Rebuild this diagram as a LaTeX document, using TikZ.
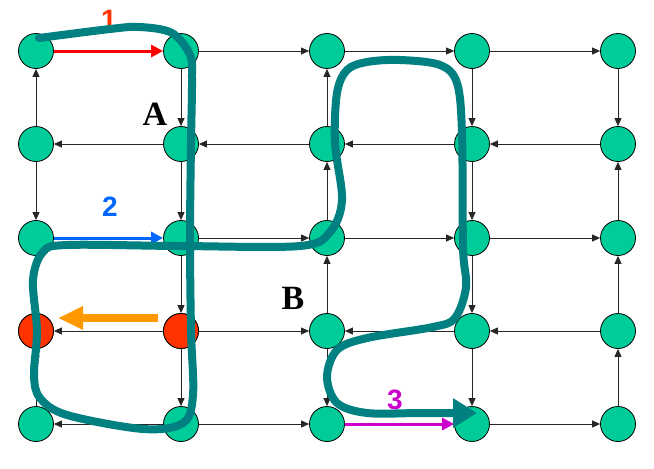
\documentclass[tikz,border=0pt]{standalone}
\usepackage{fontspec}
\setmainfont{Liberation Serif}
\newfontfamily\digitfont{Liberation Sans}
\usetikzlibrary{arrows.meta}
\definecolor{dotgreen}{HTML}{00CC99}
\definecolor{hotred}{HTML}{FF3300}
\definecolor{pathteal}{HTML}{008080}
\definecolor{blueA}{HTML}{0066FF}
\definecolor{magA}{HTML}{CC00CC}
\definecolor{orangeA}{HTML}{FF9900}
\tikzset{
  dot/.style={circle,draw=black,line width=0.8pt,fill=dotgreen,minimum size=35pt,inner sep=0pt},
  hotdot/.style={dot,fill=hotred},
  edge/.style={draw=black!85,line width=0.8pt,-{Triangle[length=8pt,width=7pt]}},
  plainedge/.style={draw=black!85,line width=0.8pt},
  flowarrow/.style={line width=3pt,-{Triangle[length=12pt,width=12pt]}},
  digit/.style={font=\digitfont\bfseries\fontsize{28}{28}\selectfont,inner sep=0pt},
  letter/.style={font=\bfseries\fontsize{34}{34}\selectfont,inner sep=0pt},
}
\begin{document}
\begin{tikzpicture}[x=1pt,y=-1pt]
\useasboundingbox (0,0) rectangle (654,469);
% nodes
\foreach \c/\x in {0/36,1/181,2/327,3/472,4/618}{
  \foreach \r/\y in {0/51,1/144,2/238,3/331,4/424}{
    \node[dot] (n\c\r) at (\x,\y) {};
  }
}
\node[hotdot] (n03) at (36,331) {};
\node[hotdot] (n13) at (181,331) {};
% rightward edges
\foreach \a/\b in {n10/n20,n20/n30,n30/n40,n12/n22,n22/n32,n32/n42,n13/n23,n14/n24,n34/n44}
  \draw[edge] (\a) -- (\b);
% leftward edges
\foreach \a/\b in {n11/n01,n21/n11,n31/n21,n41/n31,n13/n03,n33/n23,n43/n33,n14/n04}
  \draw[edge] (\a) -- (\b);
% downward edges
\foreach \a/\b in {n01/n02,n10/n11,n11/n12,n12/n13,n13/n14,n23/n24,n30/n31,n31/n32,n32/n33,n33/n34,n40/n41}
  \draw[edge] (\a) -- (\b);
% upward edges
\foreach \a/\b in {n01/n00,n21/n20,n22/n21,n23/n22,n42/n41,n43/n42,n44/n43,n04/n03}
  \draw[edge] (\a) -- (\b);
\draw[plainedge] (n02) -- (n03);
% highlighted flows
\draw[flowarrow,red] (n00) -- (n10);
\draw[flowarrow,blueA] (n02) -- (n12);
\draw[flowarrow,magA] (n24) -- (n34);
% orange arrow
\coordinate (oa) at (158,318);
\coordinate (ob) at (58,318);
\draw[orangeA,line width=8pt,-{Triangle[length=25pt,width=22pt]}] (oa) -- (ob);
% labels
\node[digit,text=hotred] (l1) at (109,20) {1};
\node[digit,text=blueA] (l2) at (110,207) {2};
\node[digit,text=magA] (l3) at (395,400) {3};
\node[letter] (lA) at (155,114) {A};
\node[letter] (lB) at (293,298) {B};
% teal route
\draw[pathteal,line width=8pt,line cap=round,line join=round,-{Triangle[length=24pt,width=28pt]}]
  plot[smooth,tension=0.55] coordinates {
   (39,38) (110,29) (140,27) (172,33) (190,55) (192,80) (191,143) (190,238)
   (191,330) (193,395) (183,423) (143,429) (67,415) (40,398) (34,375)
   (37,331) (33,280) (43,252) (67,245) (180,246) (300,246) (330,232)
   (342,200) (335,143) (337,93) (347,70) (367,62) (400,60) (440,65) (457,83)
   (462,133) (463,247) (466,287) (455,318) (433,327) (367,338) (337,350)
   (327,377) (337,403) (367,413) (420,413) (477,413)};
\end{tikzpicture}
\end{document}
